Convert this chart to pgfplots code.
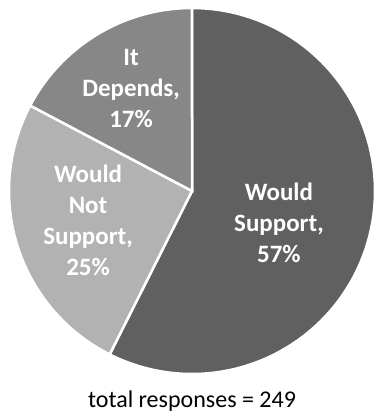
\documentclass[border=0pt]{standalone}
\usepackage{pgfplots}
\pgfplotsset{compat=1.18}
\usepackage{pgfplotstable}
\usepackage{fontspec}
\setmainfont{Carlito}
\definecolor{cWS}{HTML}{606060}
\definecolor{cWN}{HTML}{B2B2B2}
\definecolor{cID}{HTML}{878787}
\pgfplotstableread{
label value
WouldSupport 143
WouldNotSupport 63
ItDepends 43
}\piedata
\begin{document}
\begin{tikzpicture}
\pgfplotstablegetelem{0}{value}\of\piedata \let\vA\pgfplotsretval
\pgfplotstablegetelem{1}{value}\of\piedata \let\vB\pgfplotsretval
\pgfplotstablegetelem{2}{value}\of\piedata \let\vC\pgfplotsretval
\pgfmathsetmacro{\tot}{\vA+\vB+\vC}
\pgfmathsetmacro{\aA}{90-360*(\vA/\tot)}
\pgfmathsetmacro{\aB}{\aA-360*(\vB/\tot)}
\pgfmathsetmacro{\aC}{\aB-360*(\vC/\tot)}
\useasboundingbox (0,0) rectangle (375bp,413bp);
\begin{axis}[
  anchor=south west, at={(0,0)},
  x=183bp, y=183bp,
  xmin=-1.0492, xmax=1.0,
  ymin=-1.2131, ymax=1.0437,
  hide axis, clip=false,
]
\addplot[fill=cWS, draw=white, line width=2.5bp, domain=\aA:90, samples=120, variable=\t]
  ({cos(\t)},{sin(\t)}) -- (axis cs:0,0) -- cycle;
\addplot[fill=cWN, draw=white, line width=2.5bp, domain=\aB:\aA, samples=80, variable=\t]
  ({cos(\t)},{sin(\t)}) -- (axis cs:0,0) -- cycle;
\addplot[fill=cID, draw=white, line width=2.5bp, domain=\aC:\aB, samples=60, variable=\t]
  ({cos(\t)},{sin(\t)}) -- (axis cs:0,0) -- cycle;
\node[align=center, text=white, font=\bfseries\fontsize{25bp}{31bp}\selectfont] at (axis cs:0.475,-0.175) {Would\\Support,\\57\%};
\node[align=center, text=white, font=\bfseries\fontsize{25bp}{31bp}\selectfont] at (axis cs:-0.568,-0.16) {Would\\Not\\Support,\\25\%};
\node[align=center, text=white, font=\bfseries\fontsize{25bp}{31bp}\selectfont] at (axis cs:-0.333,0.56) {It\\Depends,\\17\%};
\node[font=\fontsize{24bp}{29bp}\selectfont, text=black] at (axis cs:0,-1.15) {total responses = 249};
\end{axis}
\end{tikzpicture}
\end{document}
